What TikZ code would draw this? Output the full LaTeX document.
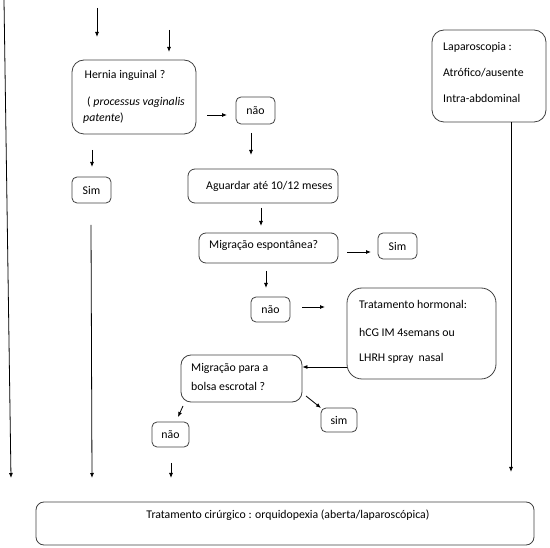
\documentclass[tikz,border=0pt]{standalone}
\usepackage{fontspec}
\setmainfont{Carlito}
\usetikzlibrary{arrows.meta}
\begin{document}
\begin{tikzpicture}[x=1pt,y=-1pt,
  box/.style={draw=black!75, line width=0.8pt, rounded corners=5pt, inner sep=0pt, font=\fontsize{11.8}{14}\selectfont},
  txt/.style={anchor=west, inner sep=0pt, font=\fontsize{11.8}{14}\selectfont},
  arr/.style={-{Latex[length=5pt,width=4pt]}, line width=0.8pt}]
\useasboundingbox (0,0) rectangle (550,548);
% boxes
\node[box, minimum width=124pt, minimum height=74pt, rounded corners=12pt] (hernia) at (134,97) {};
\node[txt] (t1) at (84.5,75) {Hernia inguinal ?};
\node[txt] (t2) at (87,102) {( \textit{processus vaginalis}};
\node[txt] (t3) at (83,118) {\textit{patente})};
\node[box, minimum width=39pt, minimum height=27pt] (nao1) at (255.5,110.5) {não};
\node[box, minimum width=150pt, minimum height=34pt, rounded corners=7pt] (aguard) at (263,186) {};
\node[txt] (t0) at (206,186) {Aguardar até 10/12 meses};
\node[box, minimum width=139pt, minimum height=30pt, rounded corners=7pt] (migesp) at (268.5,248) {};
\node[txt] (t4) at (209,245) {Migração espontânea?};
\node[box, minimum width=39pt, minimum height=26pt] (sim1) at (397.5,246) {Sim};
\node[box, minimum width=39pt, minimum height=25pt] (nao2) at (270.5,309.5) {não};
\node[box, minimum width=149pt, minimum height=91pt, rounded corners=15pt] (horm) at (421.5,333.5) {};
\node[txt] (t5) at (359,304) {Tratamento hormonal:};
\node[txt] (t6) at (359,332) {hCG IM 4semans ou};
\node[txt] (t7) at (359,358) {LHRH spray\ \ nasal};
\node[box, minimum width=121pt, minimum height=47pt, rounded corners=10pt] (mig2) at (241.5,378.5) {};
\node[txt] (t8) at (191,368) {Migração para a};
\node[txt] (t9) at (191,386) {bolsa escrotal ?};
\node[box, minimum width=36pt, minimum height=24pt] (sim2) at (339,420) {sim};
\node[box, minimum width=37pt, minimum height=25pt] (nao3) at (170.5,434.5) {não};
\node[box, minimum width=39pt, minimum height=26pt] (simL) at (91.5,190) {Sim};
\node[box, minimum width=114pt, minimum height=92pt, rounded corners=12pt] (lap) at (489,76) {};
\node[txt] (t10) at (443,47) {Laparoscopia :};
\node[txt] (t11) at (443,73) {Atrófico/ausente};
\node[txt] (t12) at (443,98) {Intra-abdominal};
\node[box, minimum width=498pt, minimum height=43pt, rounded corners=8pt] (cir) at (285,523.5) {};
\node[inner sep=0pt, font=\fontsize{11.8}{14}\selectfont] (t13) at (288,515) {Tratamento cirúrgico : orquidopexia (aberta/laparoscópica)};
% free arrow ends
\coordinate (a1s) at (97,8);   \coordinate (a1e) at (97,37);
\coordinate (a2s) at (169,30); \coordinate (a2e) at (169,52);
\coordinate (a3s) at (207,115); \coordinate (a3e) at (227,115);
\coordinate (a4s) at (251,133); \coordinate (a4e) at (251,155);
\coordinate (a5s) at (261,208); \coordinate (a5e) at (261,226);
\coordinate (a6s) at (347,252); \coordinate (a6e) at (371,252);
\coordinate (a7s) at (266,271); \coordinate (a7e) at (266,288);
\coordinate (a8s) at (302,307); \coordinate (a8e) at (325,307);
\coordinate (a10s) at (306,396); \coordinate (a10e) at (321,408);
\coordinate (a11s) at (183,406); \coordinate (a11e) at (178,417);
\coordinate (a12s) at (171,463); \coordinate (a12e) at (171,478);
\coordinate (a13s) at (92,150); \coordinate (a13e) at (92,167);
\coordinate (a14s) at (91,225); \coordinate (a14e) at (92,478);
\coordinate (a15s) at (4,0); \coordinate (a15e) at (11,478);
\coordinate (a16e) at (511,472);
\draw[arr] (a1s) -- (a1e);
\draw[arr] (a2s) -- (a2e);
\draw[arr] (a3s) -- (a3e);
\draw[arr] (a4s) -- (a4e);
\draw[arr] (a5s) -- (a5e);
\draw[arr] (a6s) -- (a6e);
\draw[arr] (a7s) -- (a7e);
\draw[arr] (a8s) -- (a8e);
\draw[arr] (horm.west |- 0,367) -- (mig2.east |- 0,367);
\draw[arr] (a10s) -- (a10e);
\draw[arr] (a11s) -- (a11e);
\draw[arr] (a12s) -- (a12e);
\draw[arr] (a13s) -- (a13e);
\draw[arr] (a14s) -- (a14e);
\draw[arr] (a15s) -- (a15e);
\draw[arr] (lap.south -| a16e) -- (a16e);
\end{tikzpicture}
\end{document}
